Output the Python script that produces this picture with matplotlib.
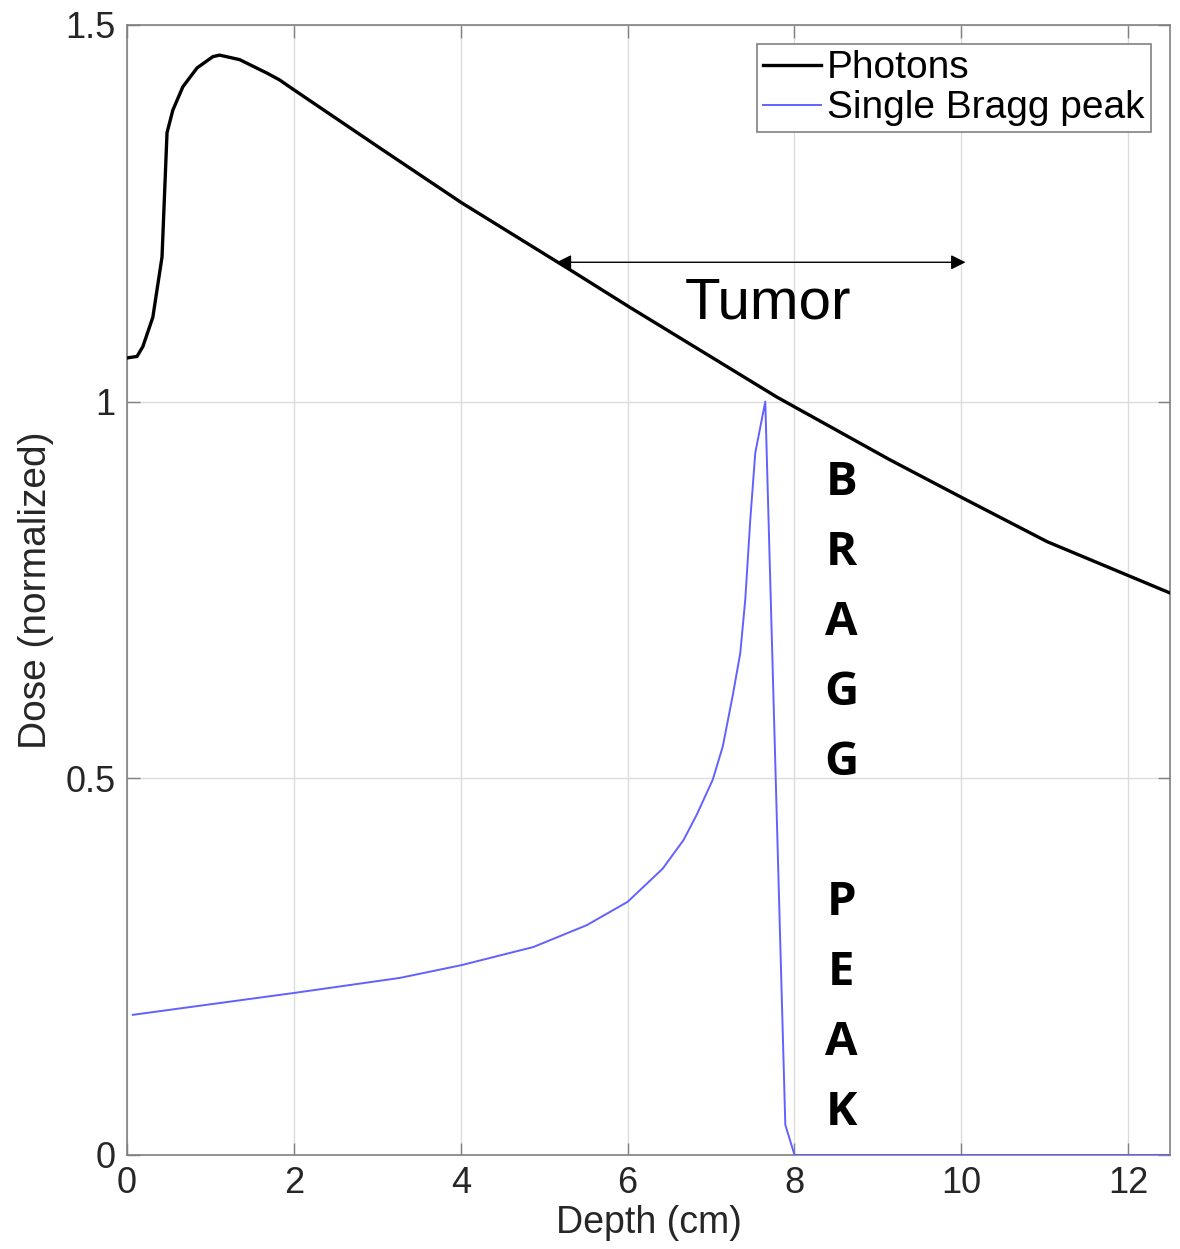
import matplotlib
matplotlib.use("Agg")
import matplotlib.pyplot as plt

# ---- data ----
photon_x = [0.0, 0.12, 0.19, 0.31, 0.42, 0.48, 0.55, 0.67, 0.84, 1.03, 1.11, 1.35,
            1.68, 1.83, 2.0, 3.0, 4.01, 5.31, 6.03, 7.79, 9.14, 10.0, 11.03, 12.5]
photon_y = [1.058, 1.06, 1.073, 1.112, 1.192, 1.357, 1.387, 1.418, 1.443, 1.458,
            1.460, 1.454, 1.436, 1.427, 1.414, 1.339, 1.264, 1.175, 1.125, 1.006,
            0.923, 0.873, 0.814, 0.746]

bragg_x = [0.07, 1.0, 2.0, 3.27, 4.01, 4.87, 5.51, 6.0, 6.42, 6.67, 6.83, 7.02,
           7.14, 7.26, 7.35, 7.41, 7.47, 7.53, 7.65, 7.89, 8.0, 12.5]
bragg_y = [0.186, 0.200, 0.215, 0.235, 0.252, 0.276, 0.305, 0.336, 0.380, 0.418,
           0.452, 0.498, 0.542, 0.610, 0.666, 0.737, 0.843, 0.932, 1.0, 0.040,
           0.0, 0.0]

xticks = [0, 2, 4, 6, 8, 10, 12]
yticks = [0, 0.5, 1.0, 1.5]
ytick_labels = ["0", "0.5", "1", "1.5"]

tumor_start, tumor_end, tumor_level = 5.15, 10.05, 1.185
bragg_letters = "BRAGG PEAK"

# ---- figure ----
plt.rcParams['font.family'] = ['Liberation Sans', 'DejaVu Sans']
fig = plt.figure(figsize=(11.8, 12.49), dpi=100)
ax = fig.add_axes([0.1076, 0.0753, 0.9915 - 0.1076, 0.98 - 0.0753])

ax.plot(photon_x, photon_y, color='black', lw=2.4, label='Photons', zorder=3)
ax.plot(bragg_x, bragg_y, color=(0.38, 0.38, 1.0), lw=1.4, label='Single Bragg peak', zorder=3)

ax.set_xlim(0, 12.5)
ax.set_ylim(0, 1.5)
ax.set_xticks(xticks)
ax.set_yticks(yticks)
ax.set_yticklabels(ytick_labels)
ax.tick_params(direction='in', length=9, width=1, colors='#808080',
               labelcolor='#262626', labelsize=26, top=True, right=True, pad=8)
ax.grid(True, color='#dcdcdc', lw=1)
ax.set_axisbelow(True)
for s in ax.spines.values():
    s.set_color('#808080')
    s.set_linewidth(1.2)

ax.set_xlabel('Depth (cm)', fontsize=27, color='#262626', labelpad=3)
ax.set_ylabel('Dose (normalized)', fontsize=28, color='#262626', labelpad=8)

leg = ax.legend(loc='upper right', fontsize=28, fancybox=False, framealpha=1,
                edgecolor='#808080', handlelength=1.5, handletextpad=0.15,
                borderpad=0.15, labelspacing=0.1, borderaxespad=0.5)
leg.get_frame().set_linewidth(1.2)

# Tumor arrow
ax.annotate('', xy=(tumor_start, tumor_level), xytext=(tumor_end, tumor_level),
            arrowprops=dict(arrowstyle='<|-|>', color='black', lw=1.0,
                            mutation_scale=22, shrinkA=0, shrinkB=0), zorder=4)
ax.text(7.68, 1.13, 'Tumor', fontsize=42, ha='center', va='center', color='black')

# Bragg peak vertical letters
y0, step = 0.893, 0.0929
for i, ch in enumerate(bragg_letters):
    if ch == ' ':
        continue
    ax.text(8.56, y0 - i * step, ch, fontsize=34, fontweight='bold',
            family=['Open Sans', 'DejaVu Sans'], ha='center', va='center', color='black')

fig.savefig('out.png', dpi=100)
